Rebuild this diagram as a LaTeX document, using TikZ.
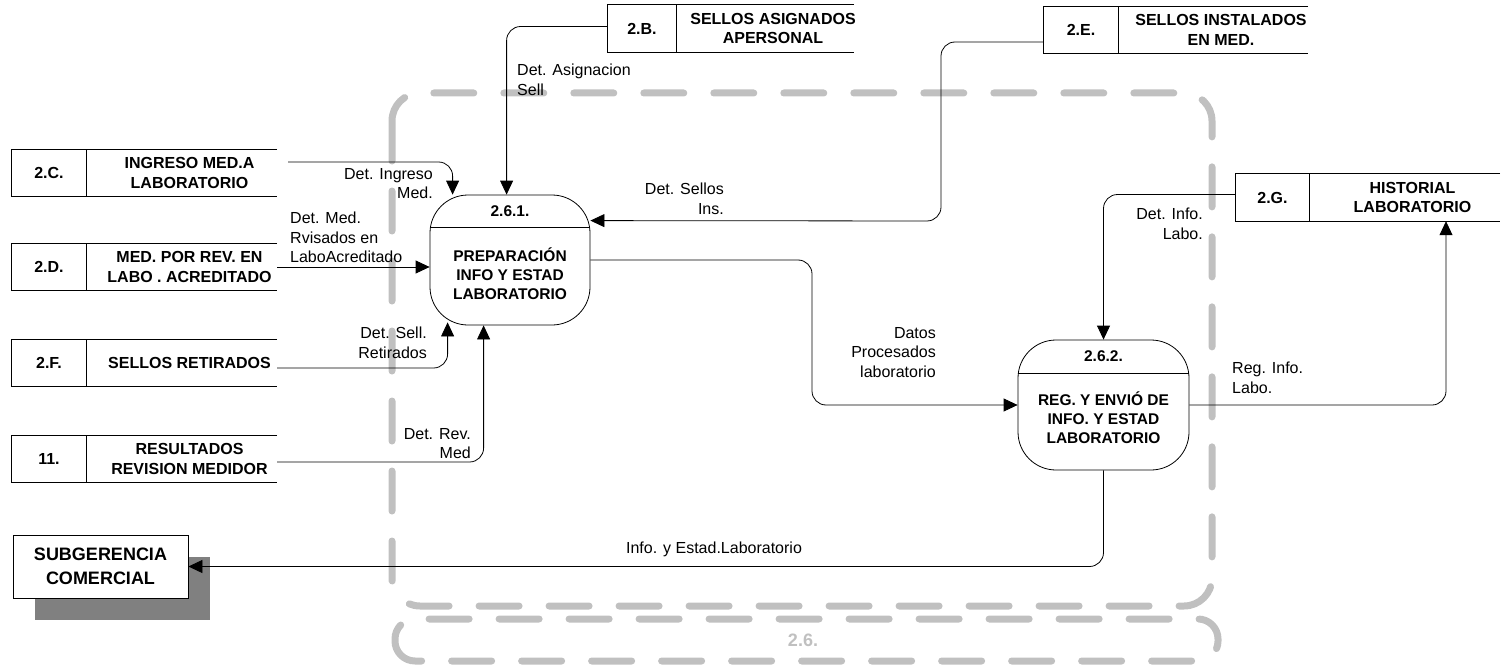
\documentclass[tikz,border=0pt]{standalone}
\usepackage{fontspec}
\setmainfont{Liberation Sans}
\usetikzlibrary{arrows.meta,shadows,fit,calc}
\definecolor{bgray}{HTML}{C0C0C0}
\definecolor{shgray}{HTML}{808080}
\tikzset{
  base/.style={line width=0.8pt},
  flow/.style={line width=0.8pt, rounded corners=14pt, -{Triangle[length=14pt,width=13pt]}},
  lbl/.style={font=\fontsize{16}{19.5}\selectfont, inner sep=0pt},
  storetxt/.style={font=\bfseries\fontsize{16}{19.5}\selectfont, align=center, inner sep=0pt},
  proctxt/.style={font=\bfseries\fontsize{15.5}{19}\selectfont, align=center, inner sep=0pt},
  proc/.style={draw, line width=0.8pt, rounded corners=38pt, minimum width=160pt, minimum height=130pt, inner sep=0pt},
  bound/.style={draw=bgray, line width=7pt, dash pattern=on 40pt off 30pt, line cap=round},
}
\newcommand\dfdstore[8]{%
  \node[fit={(#2,#3) (#5,#6)}, inner sep=0pt] (#1) {};
  \draw[base] (#1.north east) -- (#1.north west) -- (#1.south west) -- (#1.south east);
  \draw[base] (#4,#3) -- (#4,#6);
  \node[storetxt] (#1id) at ({(#2+#4)/2},{(#3+#6)/2}) {#7};
  \node[storetxt] (#1tx) at ({(#4+#5)/2+8},{(#3+#6)/2}) {#8};
}
\begin{document}
\begin{tikzpicture}[x=1pt,y=-1pt]
\useasboundingbox (0,0) rectangle (1501,666);
% boundary
\draw[bound, rounded corners=28pt] (392,93) rectangle (1212,606);
\draw[bound, rounded corners=20pt] (395,619) rectangle (1218,661);
\node[font=\bfseries\fontsize{18}{20}\selectfont, text=bgray] (lbl26) at (803,640) {2.6.};
% stores
\dfdstore{sC}{12}{150}{86}{277}{196}{2.C.}{INGRESO MED.A\\LABORATORIO}
\dfdstore{sD}{12}{244}{86}{277}{290}{2.D.}{MED. POR REV. EN\\LABO . ACREDITADO}
\dfdstore{sF}{12}{340}{86}{277}{386}{2.F.}{SELLOS RETIRADOS}
\dfdstore{sEl}{12}{436}{86}{277}{482}{11.}{RESULTADOS\\REVISION MEDIDOR}
\dfdstore{sB}{608}{5}{676}{854}{52}{2.B.}{SELLOS ASIGNADOS\\APERSONAL}
\dfdstore{sE}{1044}{7}{1118}{1308}{53}{2.E.}{SELLOS INSTALADOS\\EN MED.}
\dfdstore{sG}{1236}{174}{1309}{1500}{221}{2.G.}{HISTORIAL\\LABORATORIO}
% processes
\node[proc] (p1) at (510,260) {};
\draw[base] ([yshift=-33pt]p1.north west) -- ([yshift=-33pt]p1.north east);
\node[proctxt] (p1id) at (510,211) {2.6.1.};
\node[proctxt] (p1tx) at (510,274) {PREPARACIÓN\\INFO Y ESTAD\\LABORATORIO};
\node[proc, minimum width=171pt] (p2) at (1103.5,405) {};
\draw[base] ([yshift=-34pt]p2.north west) -- ([yshift=-34pt]p2.north east);
\node[proctxt] (p2id) at (1103.5,356) {2.6.2.};
\node[proctxt] (p2tx) at (1103.5,418) {REG. Y ENVIÓ DE\\INFO. Y ESTAD\\LABORATORIO};
% external entity
\node[draw, base, fill=white, minimum width=175pt, minimum height=63pt, inner sep=0pt,
      general shadow={fill=shgray, shadow xshift=22pt, shadow yshift=-22pt},
      font=\bfseries\fontsize{18}{24}\selectfont, align=center] (sub) at (100.5,566.5) {SUBGERENCIA\\COMERCIAL};
% flows
\draw[flow] ([shift={(11pt,11pt)}]sC.east) -| ([xshift=23pt]p1.north west);
\draw[flow] (sD.east) -- (sD.east -| p1.west);
\draw[flow] ([yshift=-5pt]sF.east) -| ([shift={(18pt,3pt)}]p1.south west);
\draw[flow] ([yshift=-3pt]sEl.east) -| ([xshift=54pt]p1.south west);
\draw[flow] ([yshift=2pt]sB.west) -| ([xshift=77pt]p1.north west);
\draw[flow] ([yshift=-12pt]sE.west) -| (941,221) -- ([yshift=-26pt]p1.north east);
\draw[flow] (p1.east) -| (812,405) -- (p2.west);
\draw[flow] ([yshift=3pt]sG.west) -| (p2.north);
\draw[flow] (p2.east) -| ([xshift=78pt]sG.south);
\draw[flow] (p2.south) |- (sub.east);
% labels
\node[lbl, anchor=north east, align=right] (l1) at (433,168) {Det. Ingreso\\Med.};
\node[lbl, anchor=north west, align=left] (l2) at (290,212) {Det. Med.\\Rvisados en\\LaboAcreditado};
\node[lbl, anchor=north east, align=right] (l3) at (427,327) {Det. Sell.\\Retirados};
\node[lbl, anchor=north east, align=right] (l4) at (471,428) {Det. Rev.\\Med};
\node[lbl, anchor=north west, align=left] (l5) at (517,64) {Det. Asignacion\\Sell};
\node[lbl, anchor=north east, align=right] (l6) at (724,183) {Det. Sellos\\Ins.};
\node[lbl, anchor=north east, align=right] (l7) at (936,327) {Datos\\Procesados\\laboratorio};
\node[lbl, anchor=north east, align=right] (l8) at (1203,208) {Det. Info.\\Labo.};
\node[lbl, anchor=north west, align=left] (l9) at (1232,362) {Reg. Info.\\Labo.};
\node[lbl, anchor=north] (l10) at (714,542) {Info. y Estad.Laboratorio};
\end{tikzpicture}
\end{document}
